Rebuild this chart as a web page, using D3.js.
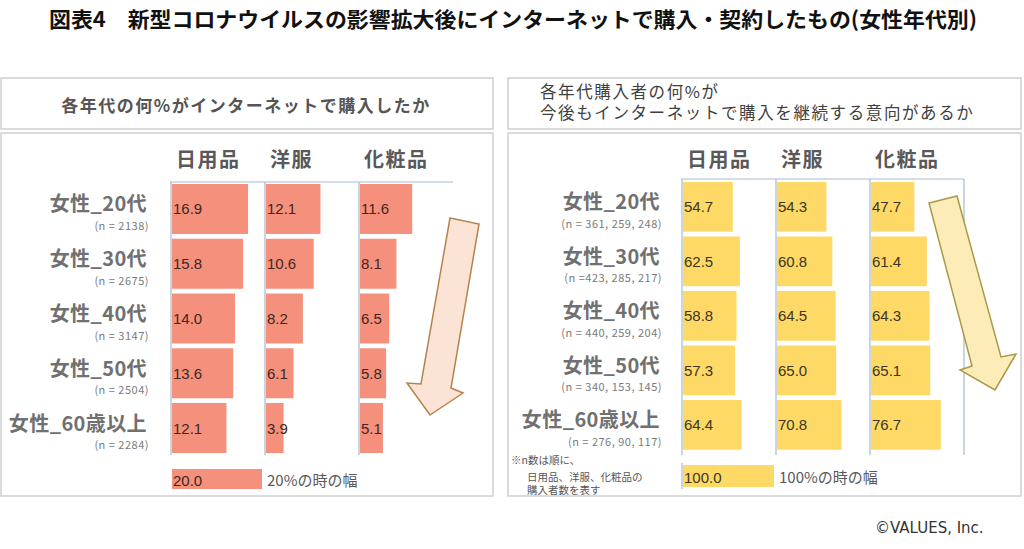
<!DOCTYPE html>
<html>
<head>
<meta charset="utf-8">
<script src="https://cdn.jsdelivr.net/npm/d3@7"></script>
<style>
body { margin: 0; background: #fff; }
</style>
</head>
<body>
<div id="chart"></div>
<script>
// rows / columns
var rows = ["女性_20代", "女性_30代", "女性_40代", "女性_50代", "女性_60歳以上"];
var categories = ["日用品", "洋服", "化粧品"];

// left: % who bought online
var buyDaily = [16.9, 15.8, 14.0, 13.6, 12.1];
var buyClothes = [12.1, 10.6, 8.2, 6.1, 3.9];
var buyCosme = [11.6, 8.1, 6.5, 5.8, 5.1];
var buyN = ["(n = 2138)", "(n = 2675)", "(n = 3147)", "(n = 2504)", "(n = 2284)"];

// right: % of buyers who intend to continue
var keepDaily = [54.7, 62.5, 58.8, 57.3, 64.4];
var keepClothes = [54.3, 60.8, 64.5, 65.0, 70.8];
var keepCosme = [47.7, 61.4, 64.3, 65.1, 76.7];
var keepN = ["(n = 361, 259, 248)", "(n =423, 285, 217)", "(n = 440, 259, 204)", "(n = 340, 153, 145)", "(n = 276,  90, 117)"];

var cjk = "'Noto Sans CJK JP', sans-serif";
var num = "'Liberation Sans', Arial, sans-serif";
var fmt = d3.format(".1f");

var svg = d3.select("#chart")
    .append("svg")
    .attr("width", 1024)
    .attr("height", 549);

svg.append("text")
    .attr("x", 49)
    .attr("y", 27)
    .attr("textLength", 928)
    .attr("lengthAdjust", "spacingAndGlyphs")
    .style("font-family", cjk)
    .style("font-size", "21px")
    .style("font-weight", 700)
    .style("fill", "#111")
    .text("図表4　新型コロナウイルスの影響拡大後にインターネットで購入・契約したもの(女性年代別)");

function drawPanel(p) {
    var g = svg.append("g");

    // boxes
    g.append("rect")
        .attr("x", p.left).attr("y", 78)
        .attr("width", p.w).attr("height", 51)
        .style("fill", "#fff").style("stroke", "#cfcfcf").style("stroke-width", 1.5);
    g.append("rect")
        .attr("x", p.left).attr("y", 133)
        .attr("width", p.w).attr("height", 363)
        .style("fill", "#fff").style("stroke", "#cfcfcf").style("stroke-width", 1.5);

    p.header(g);

    var x = d3.scaleBand().domain(categories).range([p.gx, p.gx + 3 * 94]);
    var y = d3.scaleBand().domain(rows).range(p.yr).paddingInner(0.087).paddingOuter(0.0435);
    var v = d3.scaleLinear().domain([0, p.max]).range([0, p.span]);

    var data = [];
    categories.forEach(function(c, i) {
        rows.forEach(function(r, j) {
            data.push({cat: c, row: r, value: p.values[i][j]});
        });
    });

    // column titles
    g.selectAll(".colhead").data(categories).enter().append("text")
        .attr("x", function(d) { return x(d) + 5; })
        .attr("y", 158)
        .attr("dominant-baseline", "central")
        .style("font-family", cjk)
        .style("font-size", "20px")
        .style("font-weight", 700)
        .style("letter-spacing", "1.5px")
        .style("fill", "#595959")
        .text(function(d) { return d; });

    // grid lines
    g.append("line")
        .attr("x1", p.gx - 1).attr("x2", p.gx + 282)
        .attr("y1", p.topLine).attr("y2", p.topLine)
        .style("stroke", "#a7b9cf").style("stroke-width", 1.2);
    var edges = categories.map(function(d) { return x(d); });
    if (p.rightEdge) edges.push(p.gx + 3 * 94);
    g.selectAll(".base").data(edges).enter().append("line")
        .attr("x1", function(d) { return d; }).attr("x2", function(d) { return d; })
        .attr("y1", p.topLine).attr("y2", 455)
        .style("stroke", "#a7b9cf").style("stroke-width", 1.2);

    // bars
    g.selectAll(".bar").data(data).enter().append("rect")
        .attr("x", function(d) { return x(d.cat) + 1; })
        .attr("y", function(d) { return y(d.row); })
        .attr("width", function(d) { return v(d.value); })
        .attr("height", y.bandwidth())
        .style("fill", p.color);

    g.selectAll(".val").data(data).enter().append("text")
        .attr("x", function(d) { return x(d.cat) + 2; })
        .attr("y", function(d) { return y(d.row) + y.bandwidth() / 2; })
        .attr("dominant-baseline", "central")
        .style("font-family", num)
        .style("font-size", "15px")
        .style("fill", p.textColor)
        .text(function(d) { return fmt(d.value); });

    // row labels
    g.selectAll(".rowlab").data(rows).enter().append("text")
        .attr("x", p.labelX)
        .attr("y", function(d) { return y(d) + y.bandwidth() / 2 - 6; })
        .attr("text-anchor", "end")
        .attr("dominant-baseline", "central")
        .style("font-family", cjk)
        .style("font-size", "20px")
        .style("font-weight", 700)
        .style("letter-spacing", "0.4px")
        .style("fill", "#707070")
        .text(function(d) { return d; });

    g.selectAll(".nlab").data(p.n).enter().append("text")
        .attr("x", p.labelX + 2)
        .attr("y", function(d, i) { return y(rows[i]) + y.bandwidth() / 2 + 16; })
        .attr("text-anchor", "end")
        .attr("dominant-baseline", "central")
        .style("font-family", cjk)
        .style("font-size", "11px")
        .style("letter-spacing", "0.5px")
        .style("fill", "#7a7a7a")
        .text(function(d) { return d; });

    // width legend
    g.append("rect")
        .attr("x", x(categories[0]) + 1).attr("y", p.legY)
        .attr("width", v(p.max)).attr("height", p.legH)
        .style("fill", p.color);
    g.append("text")
        .attr("x", x(categories[0]) + 2).attr("y", p.legY + p.legH / 2 + 1)
        .attr("dominant-baseline", "central")
        .style("font-family", num).style("font-size", "15px")
        .style("fill", p.textColor)
        .text(fmt(p.max));
    g.append("text")
        .attr("x", x(categories[0]) + v(p.max) + 6).attr("y", p.legY + p.legH / 2)
        .attr("dominant-baseline", "central")
        .style("font-family", cjk).style("font-size", "15px")
        .style("fill", "#595959")
        .text(p.max + "%の時の幅");
    if (p.rightEdge) {
        g.append("line")
            .attr("x1", p.gx).attr("x2", p.gx)
            .attr("y1", p.legY - 2).attr("y2", p.legY + p.legH + 2)
            .style("stroke", "#a7b9cf").style("stroke-width", 1.2);
    }

    // trend arrow
    g.append("polygon")
        .attr("points", p.arrow.map(function(d) { return d.join(","); }).join(" "))
        .style("fill", p.arrowFill)
        .style("stroke", p.arrowStroke)
        .style("stroke-width", 1.5)
        .style("stroke-linejoin", "miter");
}

drawPanel({
    left: 1, w: 492,
    gx: 171, topLine: 182,
    yr: [181.6, 455.4],
    max: 20, span: 90,
    values: [buyDaily, buyClothes, buyCosme],
    n: buyN,
    labelX: 147,
    color: "#f4907c", textColor: "#3e2722",
    legY: 469, legH: 20,
    rightEdge: false,
    arrowFill: "#fbe4d5", arrowStroke: "#b5834f",
    arrow: [[450, 218], [479, 224], [451, 388], [463, 393], [430, 415], [407, 383], [421, 384]],
    header: function(g) {
        g.append("text")
            .attr("x", 246).attr("y", 104)
            .attr("text-anchor", "middle")
            .attr("dominant-baseline", "central")
            .style("font-family", cjk).style("font-size", "17px")
            .style("font-weight", 700).style("letter-spacing", "1.5px")
            .style("fill", "#555")
            .text("各年代の何%がインターネットで購入したか");
    }
});

drawPanel({
    left: 508, w: 513,
    gx: 682, topLine: 179,
    yr: [179.6, 452.1],
    max: 100, span: 91,
    values: [keepDaily, keepClothes, keepCosme],
    n: keepN,
    labelX: 660,
    color: "#ffd966", textColor: "#3b3522",
    legY: 465, legH: 22,
    rightEdge: true,
    arrowFill: "#fdebb8", arrowStroke: "#a89a48",
    arrow: [[929, 203], [957, 196], [1001, 357], [1016, 354], [995, 390], [960, 370], [972, 366]],
    header: function(g) {
        g.append("text")
            .attr("x", 540).attr("y", 91)
            .attr("dominant-baseline", "central")
            .style("font-family", cjk).style("font-size", "16.5px")
            .style("letter-spacing", "1.6px")
            .style("fill", "#404040")
            .text("各年代購入者の何%が");
        g.append("text")
            .attr("x", 540).attr("y", 112)
            .attr("dominant-baseline", "central")
            .style("font-family", cjk).style("font-size", "16.5px")
            .style("letter-spacing", "1.6px")
            .style("fill", "#404040")
            .text("今後もインターネットで購入を継続する意向があるか");
    }
});

// footnote
var note = ["※n数は順に、", "日用品、洋服、化粧品の", "購入者数を表す"];
svg.selectAll(".note").data(note).enter().append("text")
    .attr("x", function(d, i) { return i == 0 ? 511 : 527; })
    .attr("y", function(d, i) { return [459, 476, 489][i]; })
    .attr("dominant-baseline", "central")
    .style("font-family", cjk)
    .style("font-size", "10.5px")
    .style("fill", "#555")
    .text(function(d) { return d; });

svg.append("text")
    .attr("x", 875)
    .attr("y", 528)
    .attr("dominant-baseline", "central")
    .style("font-family", "'DejaVu Sans', sans-serif")
    .style("font-size", "15px")
    .style("fill", "#333")
    .text("©VALUES, Inc.");
</script>
</body>
</html>
